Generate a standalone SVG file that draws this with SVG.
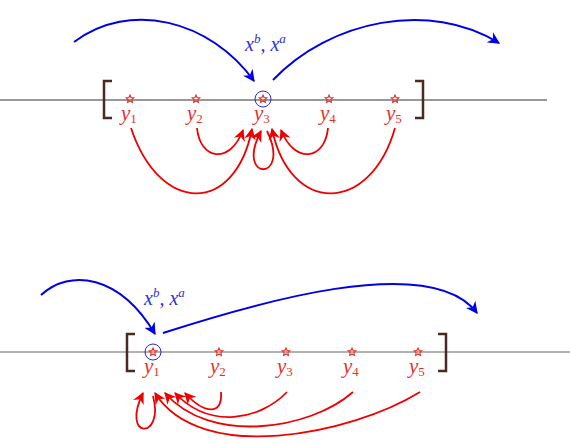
<svg xmlns="http://www.w3.org/2000/svg" width="570" height="444" viewBox="0 0 570 444">
<style>
.axis{stroke:#333;stroke-width:1;fill:none}
.axis2{stroke:#666;stroke-width:1;fill:none}
.br{stroke:#4a2a20;stroke-width:2.5;fill:none}
.star{stroke:#e8302a;stroke-width:1.1;fill:none}
.lbl{font-family:"Liberation Serif",serif;font-style:italic;font-size:21px;fill:#e8302a}
.sub{font-style:normal;font-size:13px}
.xl{font-family:"Liberation Serif",serif;font-style:italic;font-size:20px;fill:#3030d8}
.sup{font-size:13px}
.blue{stroke:#0000e6;stroke-width:2;fill:none;marker-end:url(#ab)}
.red{stroke:#ee0000;stroke-width:1.8;fill:none;marker-end:url(#ar)}
.circ{stroke:#2a2ae0;stroke-width:1;fill:none}
</style>
<defs>
<marker id="ab" viewBox="0 0 10 10" refX="9" refY="5" markerWidth="6" markerHeight="6" orient="auto" markerUnits="strokeWidth">
<path d="M0,0 L10,5 L0,10 L3,5 Z" fill="#0000e6"/>
</marker>
<marker id="ar" viewBox="0 0 10 10" refX="9" refY="5" markerWidth="6.5" markerHeight="6.5" orient="auto" markerUnits="strokeWidth">
<path d="M0,0 L10,5 L0,10 L3,5 Z" fill="#ee0000"/>
</marker>
<path id="st" class="star" d="M0,-4 L1.2,-1.3 L3.8,-1.2 L1.9,0.6 L2.4,3.4 L0,2 L-2.4,3.4 L-1.9,0.6 L-3.8,-1.2 L-1.2,-1.3 Z"/>
</defs>

<g id="top-axis">
<line class="axis" x1="0" y1="100" x2="547" y2="100"/>
<path class="br" d="M112,81 L104,81 L104,118 L112,118"/>
<path class="br" d="M415,81 L423,81 L423,118 L415,118"/>
</g>
<g id="t-y1"><use href="#st" x="130" y="99"/><text class="lbl" x="121" y="120">y<tspan class="sub" dy="3">1</tspan></text></g>
<g id="t-y2"><use href="#st" x="196" y="99"/><text class="lbl" x="187" y="120">y<tspan class="sub" dy="3">2</tspan></text></g>
<g id="t-y3"><use href="#st" x="263" y="99"/><circle class="circ" cx="263" cy="99" r="8"/><text class="lbl" x="254" y="120">y<tspan class="sub" dy="3">3</tspan></text></g>
<g id="t-y4"><use href="#st" x="329" y="99"/><text class="lbl" x="320" y="120">y<tspan class="sub" dy="3">4</tspan></text></g>
<g id="t-y5"><use href="#st" x="395" y="99"/><text class="lbl" x="386" y="120">y<tspan class="sub" dy="3">5</tspan></text></g>
<g id="t-x"><text class="xl" x="245" y="51">x<tspan class="sup" dy="-8">b</tspan><tspan dy="8">, x</tspan><tspan class="sup" dy="-8">a</tspan></text></g>

<g id="bottom-axis">
<line class="axis2" x1="0" y1="352" x2="570" y2="352"/>
<path class="br" d="M135,334 L127,334 L127,371 L135,371"/>
<path class="br" d="M438,334 L446,334 L446,371 L438,371"/>
</g>
<g id="b-y1"><use href="#st" x="153" y="352"/><circle class="circ" cx="153" cy="352" r="8"/><text class="lbl" x="144" y="373">y<tspan class="sub" dy="3">1</tspan></text></g>
<g id="b-y2"><use href="#st" x="219" y="352"/><text class="lbl" x="210" y="373">y<tspan class="sub" dy="3">2</tspan></text></g>
<g id="b-y3"><use href="#st" x="286" y="352"/><text class="lbl" x="277" y="373">y<tspan class="sub" dy="3">3</tspan></text></g>
<g id="b-y4"><use href="#st" x="352" y="352"/><text class="lbl" x="343" y="373">y<tspan class="sub" dy="3">4</tspan></text></g>
<g id="b-y5"><use href="#st" x="418" y="352"/><text class="lbl" x="409" y="373">y<tspan class="sub" dy="3">5</tspan></text></g>
<g id="b-x"><text class="xl" x="144" y="305">x<tspan class="sup" dy="-8">b</tspan><tspan dy="8">, x</tspan><tspan class="sup" dy="-8">a</tspan></text></g>

<g id="connectors">
<path class="blue" d="M74,42 C130,0 210,20 254,81"/>
<path class="blue" d="M273,80 C330,20 430,0 499,43"/>
<path class="red" d="M131,128 C160,215 235,215 252,129"/>
<path class="red" d="M197,128 C200,160 230,165 243,130"/>
<path class="red" d="M267,131 C292,182 234,182 261,131"/>
<path class="red" d="M395,128 C370,215 290,215 272,129"/>
<path class="red" d="M328,128 C325,160 295,165 281,130"/>

<path class="blue" d="M41,295 C70,268 120,275 155,334"/>
<path class="blue" d="M163,333 C250,305 430,250 477,313"/>
<path class="red" d="M153,396 C165,440 120,440 143,393"/>
<path class="red" d="M221,392 C223,415 205,415 185,393"/>
<path class="red" d="M287,392 C260,420 210,430 175,393"/>
<path class="red" d="M353,392 C310,430 210,445 165,393"/>
<path class="red" d="M420,392 C350,435 200,465 155,393"/>
</g>
</svg>
